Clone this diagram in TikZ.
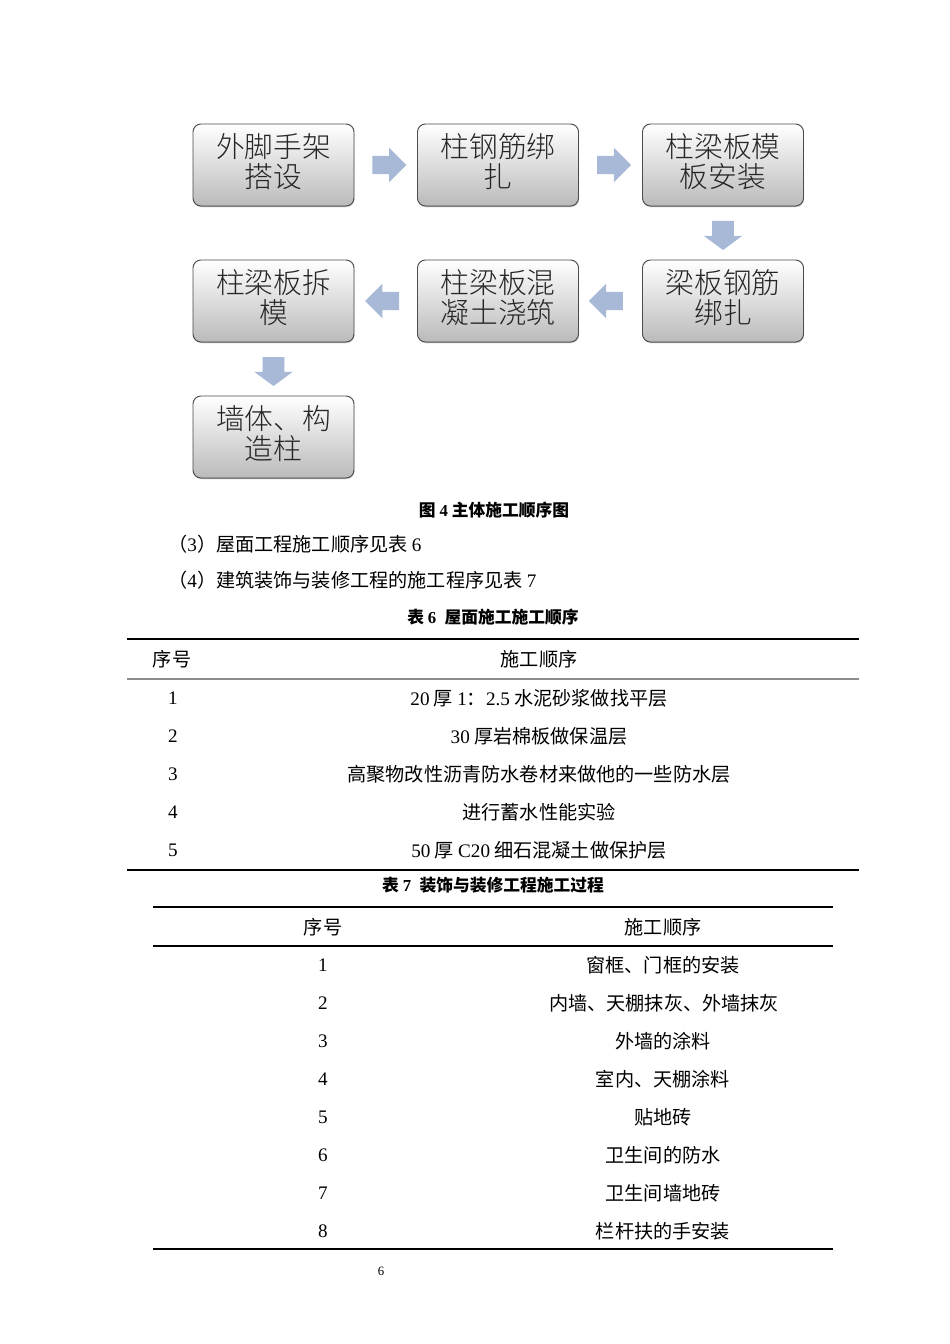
\documentclass[tikz,border=0pt]{standalone}
\usepackage{fontspec}
\setmainfont{Liberation Serif}
\newfontfamily\cjk{Noto Sans CJK SC}
\newfontfamily\cjklight{Noto Sans CJK SC Light}
\usetikzlibrary{shapes.arrows,shadows,calc}
\definecolor{arrowc}{RGB}{167,185,215}
\newcommand\nm[1]{{\rmfamily #1}}
\tikzset{
  flowbox/.style={draw=black!70, line width=0.6pt, rounded corners=5pt,
    top color=white, bottom color=black!27,
    minimum width=100.9pt, minimum height=51.4pt, align=center, inner sep=0pt,
    text depth=5.8pt,
    font=\cjklight\fontsize{18}{18.4}\selectfont, text=black!85,
    drop shadow={shadow xshift=0.4pt, shadow yshift=-0.9pt, opacity=0.25}},
  harrow/.style={single arrow, fill=arrowc, draw=none, inner xsep=0pt, inner ysep=5.5pt,
    single arrow head extend=5.1pt, single arrow tip angle=90, minimum height=21.3pt},
  varrow/.style={single arrow, fill=arrowc, draw=none, inner xsep=0pt, inner ysep=6.6pt,
    single arrow head extend=5.3pt, single arrow tip angle=107, minimum height=18.2pt, rotate=-90},
  capt/.style={font=\cjk\bfseries\fontsize{10.5}{12}\selectfont, inner sep=0pt},
  body/.style={font=\cjk\fontsize{12}{14}\selectfont, inner sep=0pt},
  thickrule/.style={line width=1.5pt},
}
\begin{document}
\begin{tikzpicture}[x=0.6266pt,y=-0.6266pt]
\useasboundingbox (0,0) rectangle (950,1344);
% flow chart
\node[flowbox] (b1) at (273.5,165) {外脚手架\\搭设};
\node[flowbox] (b2) at (498,165) {柱钢筋绑\\扎};
\node[flowbox] (b3) at (723,165) {柱梁板模\\板安装};
\node[flowbox] (b6) at (723,301) {梁板钢筋\\绑扎};
\node[flowbox] (b5) at (498,301) {柱梁板混\\凝土浇筑};
\node[flowbox] (b4) at (273.5,301) {柱梁板拆\\模};
\node[flowbox] (b7) at (273.5,437) {墙体、构\\造柱};
\node[harrow] (a12) at ($(b1.east)!0.5!(b2.west)+(-1,0)$) {};
\node[harrow] (a23) at ($(b2.east)!0.5!(b3.west)+(-1,0)$) {};
\node[varrow] (a36) at ($(b3.south)!0.5!(b6.north)+(0,-1.5)$) {};
\node[harrow,rotate=180] (a65) at ($(b6.west)!0.5!(b5.east)$) {};
\node[harrow,rotate=180] (a54) at ($(b5.west)!0.5!(b4.east)+(1,0)$) {};
\node[varrow] (a47) at ($(b4.south)!0.5!(b7.north)+(0,-1.5)$) {};
% caption and paragraphs
\node[capt] (cap4) at (494,510) {图 \nm{\bfseries 4} 主体施工顺序图};
\node[body,anchor=west] (p3) at (168,544) {（\nm{3}）屋面工程施工顺序见表 \nm{6}};
\node[body,anchor=west] (p4) at (168,580) {（\nm{4}）建筑装饰与装修工程的施工程序见表 \nm{7}};
% table 6
\node[capt] (t6cap) at (493,617) {表 \nm{\bfseries 6}\enspace 屋面施工施工顺序};
\draw[thickrule] (127,639) -- (859,639);
\node[body] (t6h1) at (172,659) {序号};
\node[body] (t6h2) at (539,659) {施工顺序};
\draw[line width=0.8pt, black!45] (127,679) -- (859,679);
\node[body] (t6n1) at (173,698) {\nm{1}};
\node[body] (t6c1) at (539,698) {\nm{20} 厚 \nm{1}：\nm{2.5} 水泥砂浆做找平层};
\node[body] (t6n2) at (173,736) {\nm{2}};
\node[body] (t6c2) at (539,736) {\nm{30} 厚岩棉板做保温层};
\node[body] (t6n3) at (173,774) {\nm{3}};
\node[body] (t6c3) at (539,774) {高聚物改性沥青防水卷材来做他的一些防水层};
\node[body] (t6n4) at (173,812) {\nm{4}};
\node[body] (t6c4) at (539,812) {进行蓄水性能实验};
\node[body] (t6n5) at (173,850) {\nm{5}};
\node[body] (t6c5) at (539,850) {\nm{50} 厚 \nm{C20} 细石混凝土做保护层};
\draw[thickrule] (127,870) -- (859,870);
% table 7
\node[capt] (t7cap) at (493,885) {表 \nm{\bfseries 7}\enspace 装饰与装修工程施工过程};
\draw[thickrule] (153,907) -- (833,907);
\node[body] (t7h1) at (323,927) {序号};
\node[body] (t7h2) at (663,927) {施工顺序};
\draw[line width=0.7pt] (153,946) -- (833,946);
\node[body] (t7n1) at (323,965) {\nm{1}};
\node[body] (t7c1) at (663,965) {窗框、门框的安装};
\node[body] (t7n2) at (323,1003) {\nm{2}};
\node[body] (t7c2) at (664,1003) {内墙、天棚抹灰、外墙抹灰};
\node[body] (t7n3) at (323,1041) {\nm{3}};
\node[body] (t7c3) at (663,1041) {外墙的涂料};
\node[body] (t7n4) at (323,1079) {\nm{4}};
\node[body] (t7c4) at (663,1079) {室内、天棚涂料};
\node[body] (t7n5) at (323,1117) {\nm{5}};
\node[body] (t7c5) at (663,1117) {贴地砖};
\node[body] (t7n6) at (323,1155) {\nm{6}};
\node[body] (t7c6) at (663,1155) {卫生间的防水};
\node[body] (t7n7) at (323,1193) {\nm{7}};
\node[body] (t7c7) at (663,1193) {卫生间墙地砖};
\node[body] (t7n8) at (323,1231) {\nm{8}};
\node[body] (t7c8) at (663,1231) {栏杆扶的手安装};
\draw[thickrule] (153,1249) -- (833,1249);
% page number
\node[font=\rmfamily\fontsize{8}{9}\selectfont, inner sep=0pt] (pg) at (381,1271) {6};
\end{tikzpicture}
\end{document}
